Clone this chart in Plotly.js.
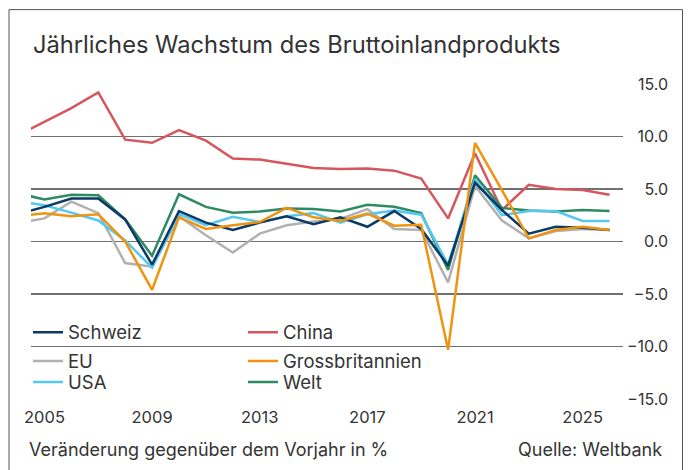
<!DOCTYPE html>
<html>
<head>
<meta charset="utf-8">
<script src="https://cdn.plot.ly/plotly-3.0.1.min.js"></script>
<style>
html,body{margin:0;padding:0;background:#fff;}
#chart{width:688px;height:470px;}
</style>
</head>
<body>
<div id="chart"></div>
<script>
const years = [2004,2005,2006,2007,2008,2009,2010,2011,2012,2013,2014,2015,2016,2017,2018,2019,2020,2021,2022,2023,2024,2025,2026];

const schweiz = [2.6,3.3,4.1,4.1,2.1,-2.2,2.9,1.8,1.1,1.8,2.4,1.65,2.3,1.4,2.9,1.2,-2.3,5.6,3.0,0.75,1.4,1.3,1.1];
const china   = [10.1,11.4,12.7,14.2,9.7,9.4,10.6,9.6,7.9,7.8,7.4,7.0,6.9,6.95,6.75,6.0,2.2,8.4,3.0,5.4,5.0,4.9,4.45];
const eu      = [1.75,2.2,3.8,2.7,-2.05,-2.4,2.4,0.6,-1.05,0.75,1.55,1.9,2.15,3.08,1.2,1.1,-3.9,5.3,2.0,0.3,1.0,1.2,1.1];
const gb      = [2.4,2.7,2.4,2.6,0.0,-4.6,2.3,1.2,1.55,1.85,3.2,2.3,1.95,2.65,1.5,1.6,-10.3,9.4,4.9,0.3,1.1,1.4,1.1];
const usa     = [3.85,3.45,2.75,2.0,0.1,-2.5,2.6,1.55,2.35,1.85,2.4,2.7,1.8,2.6,2.95,2.55,-2.2,5.95,2.5,2.9,2.9,1.95,1.95];
const welt    = [4.6,4.0,4.45,4.4,2.1,-1.35,4.5,3.3,2.75,2.85,3.15,3.1,2.85,3.5,3.3,2.7,-2.7,6.3,3.2,2.95,2.85,3.0,2.9];

const xTicks = [2005,2009,2013,2017,2021,2025];
const yTicks = [-15,-10,-5,0,5,10,15];

const FONT = 'Inter, "Noto Sans", sans-serif';
const TXT = '#333333';

// pixel helpers (plot area: margin l=28, width 640)
const L = 28, W = 640, B = 399.5, H = 315.5;
const px = v => (v - L) / W;
const py = v => (B - v) / H;

function tr(name, y, color, legend, rank){
  return {x: years, y: y, name: name, type: 'scatter', mode: 'lines',
    line: {color: color, width: 2.5}, legend: legend, legendrank: rank,
    hoverinfo: 'skip'};
}

const data = [
  tr('EU', eu, '#b1b1b1', 'legend2', 1),
  tr('China', china, '#d6565f', 'legend', 2),
  tr('Welt', welt, '#2e8a62', 'legend3', 2),
  tr('USA', usa, '#55c8f2', 'legend3', 1),
  tr('Schweiz', schweiz, '#0b3a66', 'legend', 1),
  tr('Grossbritannien', gb, '#f0930f', 'legend2', 2)
];

function leg(yc){
  return {orientation: 'h', x: 0, xanchor: 'left',
    y: py(yc), yanchor: 'middle',
    entrywidth: 170, entrywidthmode: 'pixels', bgcolor: 'rgba(0,0,0,0)',
    font: {family: FONT, size: 18.5, color: TXT}, traceorder: 'normal'};
}

const layout = {
  width: 688, height: 470,
  paper_bgcolor: '#ffffff', plot_bgcolor: '#ffffff',
  margin: {l: L, r: 20, t: 84, b: 70.5, autoexpand: false},
  font: {family: FONT, color: TXT, size: 16},
  showlegend: true,
  title: {text: 'Jährliches Wachstum des Bruttoinlandprodukts',
    xref: 'container', yref: 'container', x: 33/688, xanchor: 'left',
    y: 1 - 45/470, yanchor: 'middle',
    font: {family: FONT, size: 23.7, color: TXT}},
  xaxis: {range: [2004.5, 2026.5], domain: [px(31), px(623)],
    tickmode: 'array', tickvals: xTicks, ticktext: xTicks.map(String),
    showgrid: false, zeroline: false, showline: false, ticks: '',
    ticklabelstandoff: 6,
    tickfont: {family: FONT, size: 16.5, color: TXT}, fixedrange: true},
  yaxis: {range: [-15, 15], anchor: 'free', position: 1, side: 'left',
    tickmode: 'array', tickvals: yTicks, tickformat: '.1f',
    showgrid: true, gridcolor: '#707070', gridwidth: 1.2,
    zeroline: false, showline: false, ticks: '',
    tickfont: {family: FONT, size: 16, color: TXT}, fixedrange: true},
  legend: leg(333),
  legend2: leg(362),
  legend3: leg(383),
  shapes: [
    {type: 'rect', xref: 'paper', yref: 'paper',
     x0: px(9), x1: px(682.5), y0: py(480), y1: py(9.5),
     line: {color: '#555555', width: 1}, fillcolor: 'rgba(0,0,0,0)', layer: 'below'}
  ],
  annotations: [
    {text: 'Veränderung gegenüber dem Vorjahr in %', xref: 'paper', yref: 'paper',
     x: px(27), xanchor: 'left', y: py(450), yanchor: 'middle',
     showarrow: false, font: {family: FONT, size: 18, color: TXT}},
    {text: 'Quelle: Weltbank', xref: 'paper', yref: 'paper',
     x: px(664), xanchor: 'right', y: py(450), yanchor: 'middle',
     showarrow: false, font: {family: FONT, size: 18, color: TXT}}
  ]
};

Plotly.newPlot('chart', data, layout, {staticPlot: true, displayModeBar: false});
</script>
</body>
</html>
